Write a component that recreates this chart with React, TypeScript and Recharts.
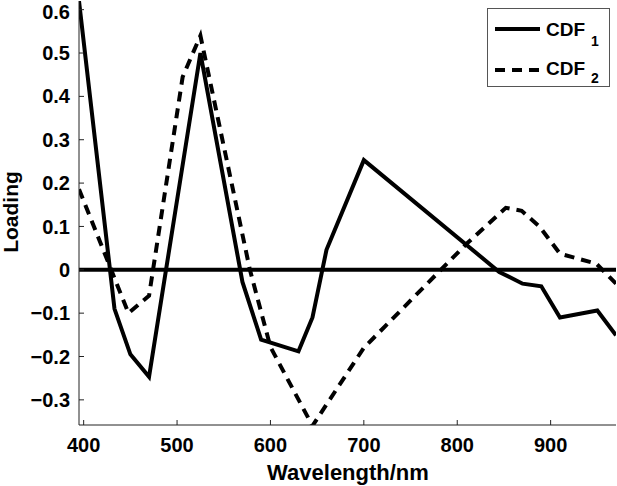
import React from 'react';
import { LineChart, Line, XAxis, YAxis, ReferenceLine } from 'recharts';

// wavelength (nm) and loading for each component
const cdf1Wavelength = [395, 433, 450, 470, 525, 570, 590, 630, 645, 660, 700, 845, 870, 890, 910, 950, 970];
const cdf1Loading = [0.62, -0.09, -0.195, -0.247, 0.5, -0.028, -0.161, -0.188, -0.11, 0.046, 0.253, -0.005, -0.032, -0.038, -0.11, -0.094, -0.151];

const cdf2Wavelength = [395, 448, 470, 506, 525, 578, 600, 645, 700, 810, 852, 869, 888, 910, 949, 970];
const cdf2Loading = [0.186, -0.1, -0.06, 0.445, 0.54, 0, -0.178, -0.36, -0.18, 0.06, 0.143, 0.136, 0.1, 0.037, 0.014, -0.032];

const xTicks = [400, 500, 600, 700, 800, 900];
const yTicks = [-0.3, -0.2, -0.1, 0, 0.1, 0.2, 0.3, 0.4, 0.5, 0.6];

const cdf1Data = cdf1Wavelength.map((w, i) => ({ w, v: cdf1Loading[i] }));
const cdf2Data = cdf2Wavelength.map((w, i) => ({ w, v: cdf2Loading[i] }));

const FONT = '"Liberation Sans", Arial, Helvetica, sans-serif';
const DASH = '10 7';

const fmtY = (v: number) => (v === 0 ? '0' : v.toFixed(1).replace('-', '\u2212'));

// MATLAB-style legend box drawn over the top right corner
function LegendBox() {
  return (
    <div style={{ position: 'absolute', left: 487, top: 8, width: 123, height: 79, border: '1px solid #555', background: '#fff', boxSizing: 'border-box' }}>
      <svg width={121} height={77} style={{ display: 'block' }}>
        <line x1={7} y1={20} x2={52} y2={20} stroke="#000" strokeWidth={4} />
        <text x={58} y={27} fontFamily={FONT} fontWeight="bold" fontSize={19} fill="#000">CDF</text>
        <text x={103} y={37} fontFamily={FONT} fontWeight="bold" fontSize={14} fill="#000">1</text>
        <line x1={7} y1={61} x2={52} y2={61} stroke="#000" strokeWidth={4} strokeDasharray={DASH} />
        <text x={58} y={66} fontFamily={FONT} fontWeight="bold" fontSize={19} fill="#000">CDF</text>
        <text x={103} y={74} fontFamily={FONT} fontWeight="bold" fontSize={14} fill="#000">2</text>
      </svg>
    </div>
  );
}

export default function App() {
  const tickStyle = { fontFamily: FONT, fontWeight: 'bold', fontSize: 20, fill: '#000' };
  return (
    <div style={{ position: 'absolute', left: 0, top: 0, width: 617, height: 486, background: '#fff' }}>
      <LineChart width={617} height={486} data={cdf1Data} margin={{ top: 1, right: 1, bottom: 0, left: 0 }}>
        <XAxis
          dataKey="w"
          type="number"
          domain={[395, 970]}
          ticks={xTicks}
          allowDataOverflow
          height={61}
          tickSize={-5}
          tickMargin={18}
          stroke="#222"
          tick={tickStyle}
          label={{
            content: () => (
              <text x={348} y={480} textAnchor="middle" fontFamily={FONT} fontWeight="bold" fontSize={22} fill="#000">
                Wavelength/nm
              </text>
            ),
          }}
        />
        <XAxis xAxisId="top" orientation="top" dataKey="w" type="number" domain={[395, 970]} ticks={xTicks} allowDataOverflow height={0} tickSize={-5} tick={false} stroke="#222" />
        <YAxis
          type="number"
          domain={[-0.358, 0.62]}
          ticks={yTicks}
          allowDataOverflow
          width={79}
          tickSize={-5}
          tickMargin={14}
          tickFormatter={fmtY}
          stroke="#222"
          tick={tickStyle}
          label={{
            content: () => (
              <text x={18} y={212} transform="rotate(-90, 18, 212)" textAnchor="middle" fontFamily={FONT} fontWeight="bold" fontSize={21} fill="#000">
                Loading
              </text>
            ),
          }}
        />
        <YAxis yAxisId="right" orientation="right" type="number" domain={[-0.358, 0.62]} ticks={yTicks} allowDataOverflow width={0} tickSize={-5} tick={false} stroke="#222" />
        <ReferenceLine y={0} stroke="#000" strokeWidth={4} />
        <Line data={cdf1Data} dataKey="v" type="linear" stroke="#000" strokeWidth={4} dot={false} isAnimationActive={false} />
        <Line data={cdf2Data} dataKey="v" type="linear" stroke="#000" strokeWidth={4} strokeDasharray={DASH} dot={false} isAnimationActive={false} />
      </LineChart>
      <LegendBox />
    </div>
  );
}
